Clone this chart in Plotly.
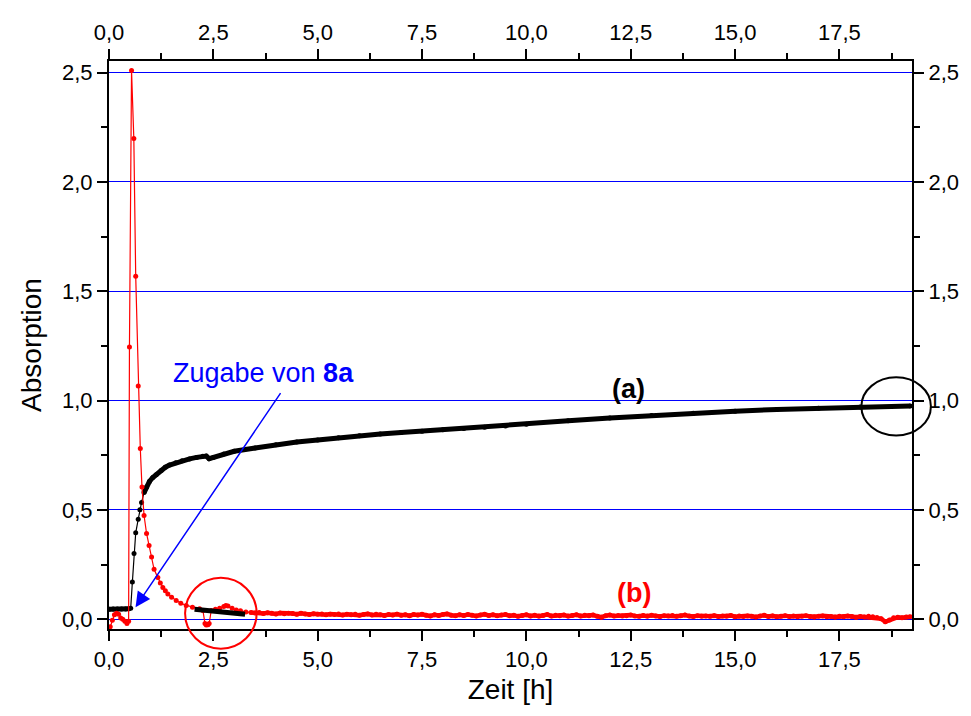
import plotly.graph_objects as go

# ---------------- data ----------------
t_a = [0.0, 0.1, 0.2, 0.3, 0.4, 0.48, 0.52, 0.56, 0.60, 0.64, 0.70, 0.74, 0.78, 0.84,
       0.90, 0.97, 1.05, 1.13, 1.25, 1.35, 1.45, 1.6, 1.75, 1.93, 2.1, 2.25, 2.33, 2.40,
       2.5, 2.75, 3.0, 3.5, 4.0, 4.5, 5.0, 5.5, 6.0, 6.5, 7.0, 7.5, 8.0, 8.5, 9.0, 9.5,
       10.0, 11.0, 12.0, 13.0, 14.0, 15.0, 16.0, 17.0, 18.0, 19.2]
abs_a = [0.045, 0.046, 0.046, 0.047, 0.047, 0.048, 0.05, 0.17, 0.30, 0.395, 0.457, 0.50, 0.534, 0.579,
         0.605, 0.63, 0.648, 0.661, 0.68, 0.695, 0.705, 0.715, 0.724, 0.733, 0.74, 0.745, 0.746, 0.734,
         0.74, 0.755, 0.768, 0.783, 0.798, 0.81, 0.82, 0.83, 0.839, 0.847, 0.854, 0.86, 0.866, 0.872, 0.878, 0.884,
         0.892, 0.907, 0.92, 0.932, 0.942, 0.951, 0.959, 0.965, 0.97, 0.975]

# short black segment inside the red circle
t_a_seg = [2.05, 2.6, 3.26]
abs_a_seg = [0.045, 0.035, 0.022]

t_b_early = [0.03, 0.08, 0.13, 0.18, 0.23, 0.28, 0.33, 0.38, 0.43, 0.47, 0.49, 0.54, 0.595, 0.64,
             0.70, 0.75, 0.79, 0.84, 0.90, 0.96, 1.02, 1.08, 1.17, 1.23, 1.29, 1.35, 1.41, 1.5,
             1.61, 1.72, 1.85, 2.0, 2.17, 2.25, 2.30, 2.33, 2.37, 2.40, 2.45, 2.55, 2.65, 2.75,
             2.80, 2.85, 2.95, 3.05, 3.15, 3.28]
abs_b_early = [-0.035, -0.005, 0.02, 0.027, 0.022, 0.005, 0.0, -0.01, -0.02, -0.01, 1.245, 2.51, 2.198, 1.569,
               1.066, 0.781, 0.605, 0.474, 0.392, 0.337, 0.284, 0.228, 0.19, 0.165, 0.145, 0.13, 0.115, 0.10,
               0.085, 0.073, 0.063, 0.055, 0.048, 0.04, -0.02, -0.027, -0.025, -0.02, 0.04, 0.045, 0.05, 0.058,
               0.063, 0.06, 0.05, 0.042, 0.038, 0.033]

abs_b_tail = [0.030, 0.028, 0.031, 0.026, 0.029, 0.027, 0.024, 0.028, 0.025, 0.027,
              0.026, 0.023, 0.027, 0.024, 0.021, 0.025, 0.022, 0.024, 0.020, 0.023,
              0.021, 0.024, 0.019, 0.022, 0.020, 0.023, 0.018, 0.021, 0.024, 0.019,
              0.022, 0.020, 0.017, 0.021, 0.019, 0.023, 0.018, 0.020, 0.016, 0.021,
              0.019, 0.022, 0.018, 0.015, 0.020, 0.017, 0.021, 0.024, 0.018, 0.016,
              0.020, 0.017, 0.021, 0.018, 0.015, 0.019, 0.022, 0.017, 0.020, 0.016,
              0.019, 0.021, 0.016, 0.018, 0.013, 0.017, 0.020, 0.015, 0.018, 0.014,
              0.017, 0.021, 0.015, 0.018, 0.016, 0.019, 0.014, 0.017, 0.020, 0.015,
              0.018, 0.016, 0.019, 0.013, 0.009, 0.016, 0.019, 0.015, 0.017, 0.014,
              0.016, 0.019, 0.015, 0.013, 0.017, 0.014, 0.018, 0.015, 0.012, 0.016,
              0.014, 0.017, 0.013, 0.016, 0.019, 0.014, 0.012, 0.016, 0.013, 0.015,
              0.013, 0.016, 0.012, 0.015, 0.013, 0.017, 0.011, 0.014, 0.012, 0.015,
              0.013, 0.010, 0.014, 0.018, 0.012, 0.015, 0.011, 0.013, 0.016, 0.012,
              0.014, 0.011, 0.013, 0.016, 0.012, 0.010, 0.013, 0.015, 0.011, 0.012,
              0.010, 0.013, 0.011, 0.014, 0.012, 0.009, 0.012, 0.010, 0.013, 0.011,
              0.008, 0.002, -0.012, -0.004, 0.006, 0.009, 0.007, 0.010, 0.011]
t_b_tail = [round(3.4 + 0.1 * i, 2) for i in range(len(abs_b_tail))]

t_b = t_b_early + t_b_tail
abs_b = abs_b_early + abs_b_tail

x_ticks = [0, 2.5, 5, 7.5, 10, 12.5, 15, 17.5]
y_ticks = [0, 0.5, 1.0, 1.5, 2.0, 2.5]

# ---------------- figure ----------------
XR = [0, 19.24]
YR = [-0.045, 2.553]
FONT = "Arial, Liberation Sans, sans-serif"
BLUE = "#0000FF"

fig = go.Figure()

dense_idx = [i for i, t in enumerate(t_a) if t >= 0.84]
start_idx = [i for i, t in enumerate(t_a) if t <= 0.48]
fig.add_trace(go.Scatter(x=t_a, y=abs_a, mode="lines+markers",
                         line=dict(color="black", width=1.2),
                         marker=dict(color="black", size=5), showlegend=False))
fig.add_trace(go.Scatter(x=[t_a[i] for i in dense_idx], y=[abs_a[i] for i in dense_idx],
                         mode="lines", line=dict(color="black", width=5), showlegend=False))
fig.add_trace(go.Scatter(x=[t_a[i] for i in start_idx], y=[abs_a[i] for i in start_idx],
                         mode="lines", line=dict(color="black", width=5), showlegend=False))

# red (b)
fig.add_trace(go.Scatter(x=t_b, y=abs_b, mode="lines+markers",
                         line=dict(color="#FF0000", width=1.2),
                         marker=dict(color="#FF0000", size=5), showlegend=False))
fig.add_trace(go.Scatter(x=t_b_tail, y=abs_b_tail, mode="lines",
                         line=dict(color="#FF0000", width=4.5), showlegend=False))

# black segment inside red circle
fig.add_trace(go.Scatter(x=t_a_seg, y=abs_a_seg, mode="lines",
                         line=dict(color="black", width=5), showlegend=False))

# invisible trace for the mirrored labelled axes
fig.add_trace(go.Scatter(x=[XR[0]], y=[YR[0]], xaxis="x2", yaxis="y2", mode="markers",
                         marker=dict(opacity=0), showlegend=False, hoverinfo="skip"))

axis_common = dict(showline=True, linecolor="black", linewidth=2, ticks="outside",
                   ticklen=10, tickwidth=2, tickcolor="black", zeroline=False,
                   tickfont=dict(family=FONT, size=22, color="black"),
                   tickformat=".1f")

def minor(step):
    return dict(dtick=step, tick0=0, ticks="outside", ticklen=6, tickwidth=2,
                tickcolor="black", showgrid=False)

fig.update_layout(
    width=963, height=708,
    margin=dict(l=101, r=54, t=43, b=87),
    paper_bgcolor="white", plot_bgcolor="white",
    separators=", ",
    font=dict(family=FONT, color="black"),
    xaxis=dict(range=XR, tickmode="array", tickvals=x_ticks, showgrid=False, minor=minor(1.25),
               title=dict(text="Zeit [h]", font=dict(family=FONT, size=28), standoff=8),
               **axis_common),
    yaxis=dict(range=YR, tickmode="array", tickvals=y_ticks, showgrid=True,
               gridcolor=BLUE, gridwidth=1, minor=minor(0.25),
               title=dict(text="Absorption", font=dict(family=FONT, size=28), standoff=12),
               **axis_common),
    xaxis2=dict(range=XR, overlaying="x", side="top", tickmode="array", tickvals=x_ticks,
                showgrid=False, gridcolor=BLUE, minor=minor(1.25), **axis_common),
    yaxis2=dict(range=YR, overlaying="y", side="right", tickmode="array", tickvals=y_ticks,
                showgrid=False, gridcolor=BLUE, minor=minor(0.25), **axis_common),
)

def px_(x):
    return (x - XR[0]) / (XR[1] - XR[0])

def py_(y):
    return (y - YR[0]) / (YR[1] - YR[0])

# circles (paper refs so they are not clipped)
fig.add_shape(type="circle", xref="paper", yref="paper",
              x0=px_(18.86 - 0.833), x1=px_(18.86 + 0.833),
              y0=py_(0.973 - 0.133), y1=py_(0.973 + 0.133),
              line=dict(color="black", width=2))
fig.add_shape(type="circle", xref="paper", yref="paper",
              x0=px_(2.68 - 0.857), x1=px_(2.68 + 0.857),
              y0=py_(0.027 - 0.162), y1=py_(0.027 + 0.162),
              line=dict(color="#FF0000", width=2))

# annotations
fig.add_annotation(x=3.71, y=1.128, xref="x", yref="y", showarrow=False,
                   text="Zugabe von <b>8a</b>",
                   font=dict(family=FONT, size=27, color=BLUE))
fig.add_annotation(x=0.636, y=0.055, ax=4.135, ay=1.041, xref="x", yref="y",
                   axref="x", ayref="y", text="", showarrow=True,
                   arrowhead=2, arrowsize=2, arrowwidth=1.5, arrowcolor=BLUE)
fig.add_annotation(x=12.45, y=1.052, xref="x", yref="y", showarrow=False,
                   text="<b>(a)</b>", font=dict(family=FONT, size=27, color="black"))
fig.add_annotation(x=12.57, y=0.121, xref="x", yref="y", showarrow=False,
                   text="<b>(b)</b>", font=dict(family=FONT, size=27, color="#FF0000"))

fig.write_html("out.html")
